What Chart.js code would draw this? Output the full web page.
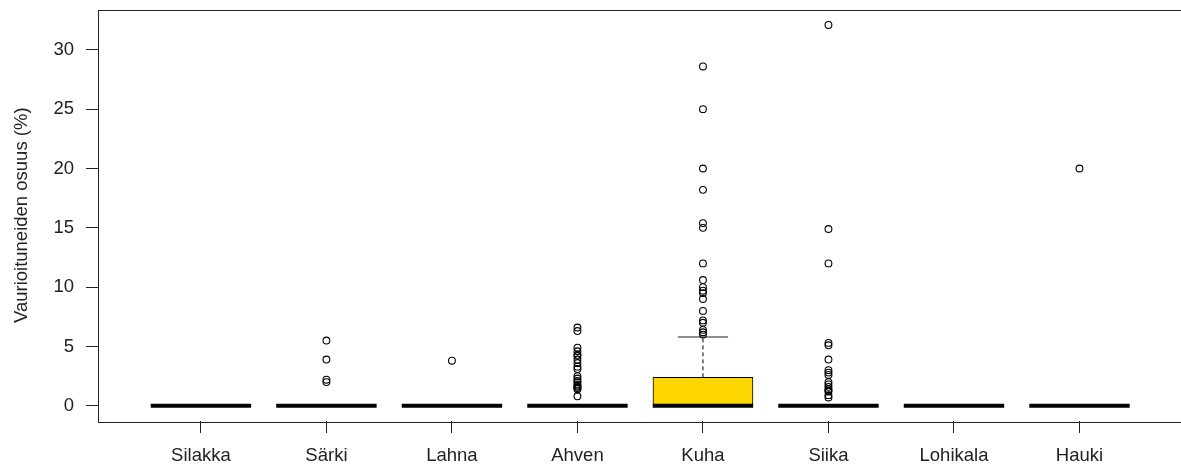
<!DOCTYPE html>
<html>
<head>
<meta charset="utf-8">
<script src="https://cdn.jsdelivr.net/npm/chart.js@4/dist/chart.umd.min.js"></script>
<style>
  html, body { margin: 0; padding: 0; background: #fff; }
  #wrap { width: 1181px; height: 466px; overflow: hidden; }
</style>
</head>
<body>
<div id="wrap"><canvas id="box" width="1200" height="466"></canvas></div>
<script>
// box statistics per species
const categories = ['Silakka', 'Särki', 'Lahna', 'Ahven', 'Kuha', 'Siika', 'Lohikala', 'Hauki'];
const q1 = [0, 0, 0, 0, 0, 0, 0, 0];
const medians = [0, 0, 0, 0, 0, 0, 0, 0];
const q3 = [0, 0, 0, 0, 2.4, 0, 0, 0];
const whiskLow = [0, 0, 0, 0, 0, 0, 0, 0];
const whiskHigh = [0, 0, 0, 0, 5.8, 0, 0, 0];
const outliers = [
  [],
  [5.5, 3.9, 2.2, 2.0],
  [3.8],
  [6.6, 6.3, 4.9, 4.6, 4.3, 4.2, 3.9, 3.6, 3.3, 3.1, 2.5, 2.3, 2.1, 2.0, 1.8, 1.7, 1.6, 1.5, 1.4, 0.8],
  [28.6, 25.0, 20.0, 18.2, 15.4, 15.0, 12.0, 10.6, 10.0, 9.7, 9.5, 9.0, 8.0, 7.2, 7.0, 6.4, 6.2, 6.0],
  [32.1, 14.9, 12.0, 5.3, 5.1, 3.9, 3.0, 2.8, 2.6, 2.0, 1.8, 1.6, 1.4, 1.3, 1.2, 0.9, 0.7],
  [],
  [20.0]
];
const boxColors = ['rgba(0,0,0,0)', 'rgba(0,0,0,0)', 'rgba(0,0,0,0)', 'rgba(0,0,0,0)', '#FFD700', 'rgba(0,0,0,0)', 'rgba(0,0,0,0)', 'rgba(0,0,0,0)'];
const yTicks = [0, 5, 10, 15, 20, 25, 30];

const halfBox = 0.4;   // boxwex 0.8
const halfStaple = 0.2;
const FONT = { family: "'Liberation Sans', Arial, sans-serif", size: 18.5 };
const INK = '#222';

// build segment lists (null y breaks the line between categories)
const medianPts = [], whiskPts = [], staplePts = [], outPts = [];
categories.forEach((c, i) => {
  const x = i + 1;
  medianPts.push({x: x - halfBox, y: medians[i]}, {x: x + halfBox, y: medians[i]}, {x: x + 0.5, y: null});
  if (whiskHigh[i] > q3[i]) {
    whiskPts.push({x: x, y: q3[i]}, {x: x, y: whiskHigh[i]}, {x: x + 0.5, y: null});
    staplePts.push({x: x - halfStaple, y: whiskHigh[i]}, {x: x + halfStaple, y: whiskHigh[i]}, {x: x + 0.5, y: null});
  }
  if (whiskLow[i] < q1[i]) {
    whiskPts.push({x: x, y: q1[i]}, {x: x, y: whiskLow[i]}, {x: x + 0.5, y: null});
    staplePts.push({x: x - halfStaple, y: whiskLow[i]}, {x: x + halfStaple, y: whiskLow[i]}, {x: x + 0.5, y: null});
  }
  outliers[i].forEach(v => outPts.push({x: x, y: v}));
});

const frame = {
  id: 'frame',
  afterDraw(chart) {
    const a = chart.chartArea, ctx = chart.ctx;
    ctx.save();
    ctx.strokeStyle = INK;
    ctx.lineWidth = 1;
    ctx.strokeRect(Math.round(a.left) + 0.5, Math.round(a.top) + 0.5, Math.round(a.right - a.left), Math.round(a.bottom - a.top));
    ctx.restore();
  }
};

new Chart(document.getElementById('box'), {
  type: 'bar',
  data: {
    datasets: [
      {
        type: 'line', data: outPts, showLine: false, order: 1,
        pointStyle: 'circle', pointRadius: 3.4, pointBorderWidth: 1.1,
        pointBackgroundColor: 'rgba(0,0,0,0)', pointBorderColor: '#000'
      },
      {
        type: 'line', data: medianPts, order: 2, spanGaps: false,
        borderColor: '#000', borderWidth: 4, borderCapStyle: 'butt', pointRadius: 0
      },
      {
        type: 'line', data: staplePts, order: 3, spanGaps: false,
        borderColor: INK, borderWidth: 1, pointRadius: 0
      },
      {
        type: 'line', data: whiskPts, order: 4, spanGaps: false,
        borderColor: '#000', borderWidth: 1, borderDash: [4, 3], pointRadius: 0
      },
      {
        type: 'bar', order: 5,
        data: categories.map((c, i) => ({x: i + 1, y: [q1[i], q3[i]]})),
        backgroundColor: boxColors, borderColor: '#000', borderWidth: 1,
        borderSkipped: false, barThickness: 100
      }
    ]
  },
  options: {
    responsive: false,
    animation: false,
    devicePixelRatio: 1,
    layout: { padding: { top: 9.5, right: 17.6, left: 0, bottom: 0 } },
    plugins: { legend: { display: false }, tooltip: { enabled: false } },
    scales: {
      x: {
        type: 'linear', min: 0.18, max: 8.82, offset: false,
        afterBuildTicks: s => { s.ticks = categories.map((c, i) => ({value: i + 1})); },
        afterFit: s => { s.height = 45; s.paddingLeft = 0; s.paddingRight = 0; },
        grid: { display: true, offset: false, drawOnChartArea: false, drawTicks: true, tickLength: 12, tickColor: INK },
        border: { display: false },
        ticks: { callback: v => categories[v - 1], autoSkip: false, maxRotation: 0, padding: 12, color: INK, font: FONT }
      },
      y: {
        type: 'linear', min: -1.28, max: 33.4,
        afterBuildTicks: s => { s.ticks = yTicks.map(v => ({value: v})); },
        afterFit: s => { s.width = 98; s.paddingTop = 0; s.paddingBottom = 0; },
        grid: { display: true, drawOnChartArea: false, drawTicks: true, tickLength: 12, tickColor: INK },
        border: { display: false },
        ticks: { padding: 12, color: INK, font: FONT },
        title: { display: true, text: 'Vaurioituneiden osuus (%)', color: INK, font: FONT, padding: { top: 11, bottom: 0 } }
      }
    }
  },
  plugins: [frame]
});
</script>
</body>
</html>
